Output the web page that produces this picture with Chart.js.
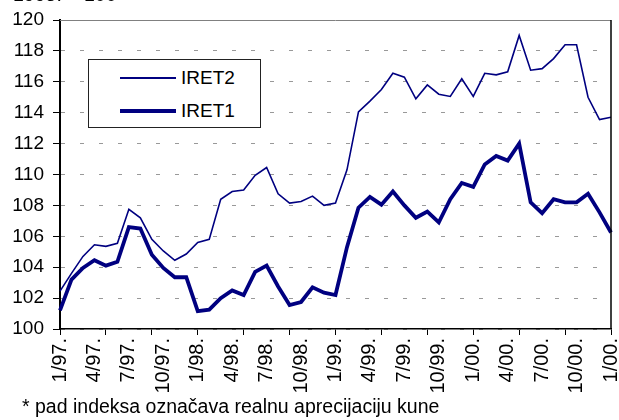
<!DOCTYPE html>
<html>
<head>
<meta charset="utf-8">
<script src="https://cdn.jsdelivr.net/npm/chart.js@4/dist/chart.umd.min.js"></script>
<style>
  html, body { margin: 0; padding: 0; background: #fff; }
  #wrap { position: relative; width: 619px; height: 420px; overflow: hidden; background: #fff; }
  #c { position: absolute; left: 0; top: 0; }
  .txt { position: absolute; font-family: 'Liberation Sans', Arial, sans-serif; font-size: 19.5px; color: #000; white-space: nowrap; line-height: 20px; }
  #legend { position: absolute; left: 88px; top: 59px; width: 171px; height: 67px; border: 1px solid #222; background: #fff; }
  .lg-row { position: absolute; left: 0; height: 20px; width: 171px; }
  .lg-line { position: absolute; left: 31px; width: 56px; }
  .lg-text { position: absolute; left: 92px; top: 0; font-family: 'Liberation Sans', Arial, sans-serif; font-size: 19px; line-height: 20px; }
</style>
</head>
<body>
<div id="wrap">
  <canvas id="c" width="619" height="400"></canvas>
  <div class="txt" id="unit" style="left:13px; top:-16px;">1995. = 100</div>
  <div id="legend"></div>
  <div class="txt" id="note" style="left:22px; top:396px;">* pad indeksa označava realnu aprecijaciju kune</div>
</div>
<script>
const months = [
  "1/97.","2/97.","3/97.","4/97.","5/97.","6/97.","7/97.","8/97.","9/97.","10/97.","11/97.","12/97.",
  "1/98.","2/98.","3/98.","4/98.","5/98.","6/98.","7/98.","8/98.","9/98.","10/98.","11/98.","12/98.",
  "1/99.","2/99.","3/99.","4/99.","5/99.","6/99.","7/99.","8/99.","9/99.","10/99.","11/99.","12/99.",
  "1/00.","2/00.","3/00.","4/00.","5/00.","6/00.","7/00.","8/00.","9/00.","10/00.","11/00.","12/00.",
  "1/00."
];
const iret2 = [102.45, 103.6, 104.7, 105.45, 105.35, 105.55, 107.75, 107.2, 105.8, 105.05, 104.45, 104.85,
  105.6, 105.8, 108.4, 108.9, 109.0, 109.95, 110.45, 108.75, 108.15, 108.25, 108.6, 108.0,
  108.15, 110.3, 114.05, 114.75, 115.5, 116.55, 116.3, 114.9, 115.8, 115.2, 115.05, 116.2,
  115.05, 116.55, 116.45, 116.65, 119.0, 116.75, 116.85, 117.5, 118.4, 118.4, 115.0, 113.55,
  113.7];
const iret1 = [101.2, 103.2, 103.95, 104.45, 104.1, 104.35, 106.6, 106.5, 104.8, 103.95, 103.35, 103.35,
  101.15, 101.25, 102.0, 102.5, 102.2, 103.7, 104.1, 102.75, 101.55, 101.75, 102.7, 102.35,
  102.2, 105.3, 107.85, 108.55, 108.05, 108.9, 108.0, 107.2, 107.6, 106.9, 108.4, 109.45,
  109.2, 110.65, 111.2, 110.9, 112.0, 108.2, 107.5, 108.4, 108.2, 108.2, 108.75, 107.55,
  106.25];
const seriesNames = ["IRET2", "IRET1"];
const yMin = 100, yMax = 120, yStep = 2;
const labelEvery = 3, tickEvery = 4;

const FONT = "'Liberation Sans', Arial, sans-serif";
const NAVY = '#000080';

const frame = {
  id: 'frame',
  afterDatasetsDraw(chart) {
    const {ctx, chartArea: a} = chart;
    ctx.save();
    ctx.lineWidth = 1;
    ctx.strokeStyle = '#808080';
    ctx.beginPath(); ctx.moveTo(a.left, a.top + 0.5); ctx.lineTo(a.right, a.top + 0.5); ctx.stroke();
    ctx.lineWidth = 1.5;
    ctx.strokeStyle = '#000';
    ctx.beginPath(); ctx.moveTo(a.right, a.top); ctx.lineTo(a.right, a.bottom); ctx.stroke();
    ctx.restore();
  }
};

const chart = new Chart(document.getElementById('c'), {
  type: 'line',
  data: {
    labels: months,
    datasets: [
      { label: seriesNames[0], data: iret2, borderColor: NAVY, backgroundColor: NAVY, borderWidth: 1.6, pointRadius: 0, tension: 0, fill: false },
      { label: seriesNames[1], data: iret1, borderColor: NAVY, backgroundColor: NAVY, borderWidth: 3.8, pointRadius: 0, tension: 0, fill: false }
    ]
  },
  options: {
    responsive: false,
    animation: false,
    devicePixelRatio: 1,
    layout: { padding: { left: 0, right: 8, top: 20, bottom: 0 } },
    plugins: { legend: { display: false }, tooltip: { enabled: false }, title: { display: false } },
    scales: {
      x: {
        type: 'category',
        offset: false,
        grid: {
          drawOnChartArea: false,
          drawTicks: true,
          tickLength: 6,
          tickWidth: 1,
          tickColor: (c) => (c.index % tickEvery === 0 ? '#000' : 'rgba(0,0,0,0)')
        },
        border: { display: true, color: '#000', width: 1.5 },
        ticks: {
          autoSkip: false,
          maxRotation: 90,
          minRotation: 90,
          padding: 3,
          color: '#000',
          font: { family: FONT, size: 20 },
          callback: (v, i) => (i % labelEvery === 0 ? months[i] : '')
        },
        afterFit(s) { s.height = 71; s.paddingLeft = 0; s.paddingRight = 0; }
      },
      y: {
        min: yMin, max: yMax,
        grid: {
          color: '#999',
          lineWidth: 1,
          drawTicks: true,
          tickLength: 7,
          tickColor: '#000',
          tickWidth: 1
        },
        border: { display: true, color: '#000', width: 2, dash: [4, 15] },
        ticks: {
          stepSize: yStep,
          padding: 9,
          color: '#000',
          font: { family: FONT, size: 19 }
        },
        afterFit(s) { s.width = 60; s.paddingTop = 0; s.paddingBottom = 0; }
      }
    }
  },
  plugins: [frame]
});

// Legend built from the chart's datasets
const lg = document.getElementById('legend');
const rowsY = [8, 41];
chart.data.datasets.forEach((ds, i) => {
  const row = document.createElement('div');
  row.className = 'lg-row';
  row.style.top = rowsY[i] + 'px';
  const ln = document.createElement('div');
  ln.className = 'lg-line';
  ln.style.height = ds.borderWidth + 'px';
  ln.style.top = (10 - ds.borderWidth / 2) + 'px';
  ln.style.background = ds.borderColor;
  const tx = document.createElement('div');
  tx.className = 'lg-text';
  tx.textContent = ds.label;
  row.appendChild(ln); row.appendChild(tx);
  lg.appendChild(row);
});
</script>
</body>
</html>
